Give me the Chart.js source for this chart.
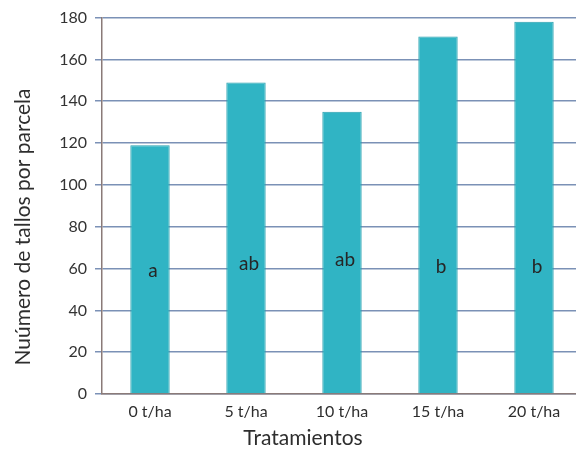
<!DOCTYPE html>
<html>
<head>
<meta charset="utf-8">
<script src="https://cdn.jsdelivr.net/npm/chart.js@4"></script>
<style>
  html, body { margin: 0; padding: 0; background: #ffffff; overflow: hidden; }
  #wrap { position: absolute; left: 0; top: 0; width: 590px; height: 457px; }
</style>
</head>
<body>
<div id="wrap"><canvas id="c" width="590" height="457"></canvas></div>
<script>
// Tallos por parcela según tratamiento
const categories = ['0 t/ha', '5 t/ha', '10 t/ha', '15 t/ha', '20 t/ha'];
const tallos = [119, 149, 135, 171, 178];
const letras = ['a', 'ab', 'ab', 'b', 'b'];
const letraNivel = [59, 62, 64, 61, 61];

const FONT = 'Lato, "Open Sans", "Liberation Sans", sans-serif';

const letrasPlugin = {
  id: 'letras',
  afterDatasetsDraw(chart) {
    const ctx = chart.ctx;
    const meta = chart.getDatasetMeta(0);
    const y = chart.scales.y;
    ctx.save();
    ctx.fillStyle = '#262626';
    ctx.font = '19px ' + FONT;
    ctx.textAlign = 'center';
    ctx.textBaseline = 'middle';
    meta.data.forEach((bar, i) => {
      ctx.fillText(letras[i], bar.x + 3, y.getPixelForValue(letraNivel[i]));
    });
    ctx.restore();
  }
};

const titulosPlugin = {
  id: 'titulos',
  afterDraw(chart) {
    const ctx = chart.ctx;
    ctx.save();
    ctx.fillStyle = '#2e2e2e';
    ctx.textAlign = 'center';
    ctx.textBaseline = 'middle';
    ctx.font = '21px ' + FONT;
    ctx.fillText('Tratamientos', 303, 438);
    ctx.translate(23, 227);
    ctx.rotate(-Math.PI / 2);
    ctx.font = '21px ' + FONT;
    ctx.fillText('Nuúmero de tallos por parcela', 0, 0);
    ctx.restore();
  }
};

new Chart(document.getElementById('c'), {
  type: 'bar',
  data: {
    labels: categories,
    datasets: [{
      data: tallos,
      backgroundColor: '#30b4c4',
      borderColor: '#279fae',
      borderWidth: 1,
      categoryPercentage: 1,
      barPercentage: 0.41
    }]
  },
  options: {
    responsive: false,
    animation: false,
    layout: { padding: { left: 0, right: 8, top: 14, bottom: 0 } },
    plugins: { legend: { display: false }, tooltip: { enabled: false } },
    scales: {
      x: {
        grid: { display: false, drawTicks: false },
        border: { color: '#8a7a78', width: 1.5 },
        ticks: { color: '#2e2e2e', font: { family: FONT, size: 16 }, padding: 8 },
        afterFit(scale) { scale.height = 63; }
      },
      y: {
        min: 0,
        max: 180,
        ticks: { stepSize: 20, color: '#333333', font: { family: FONT, size: 16 }, padding: 8 },
        grid: { color: '#7b91b6', lineWidth: 1.5, tickLength: 7 },
        border: { color: '#8a7a78', width: 1.5 },
        afterFit(scale) { scale.width = 102; }
      }
    }
  },
  plugins: [letrasPlugin, titulosPlugin]
});
</script>
</body>
</html>
